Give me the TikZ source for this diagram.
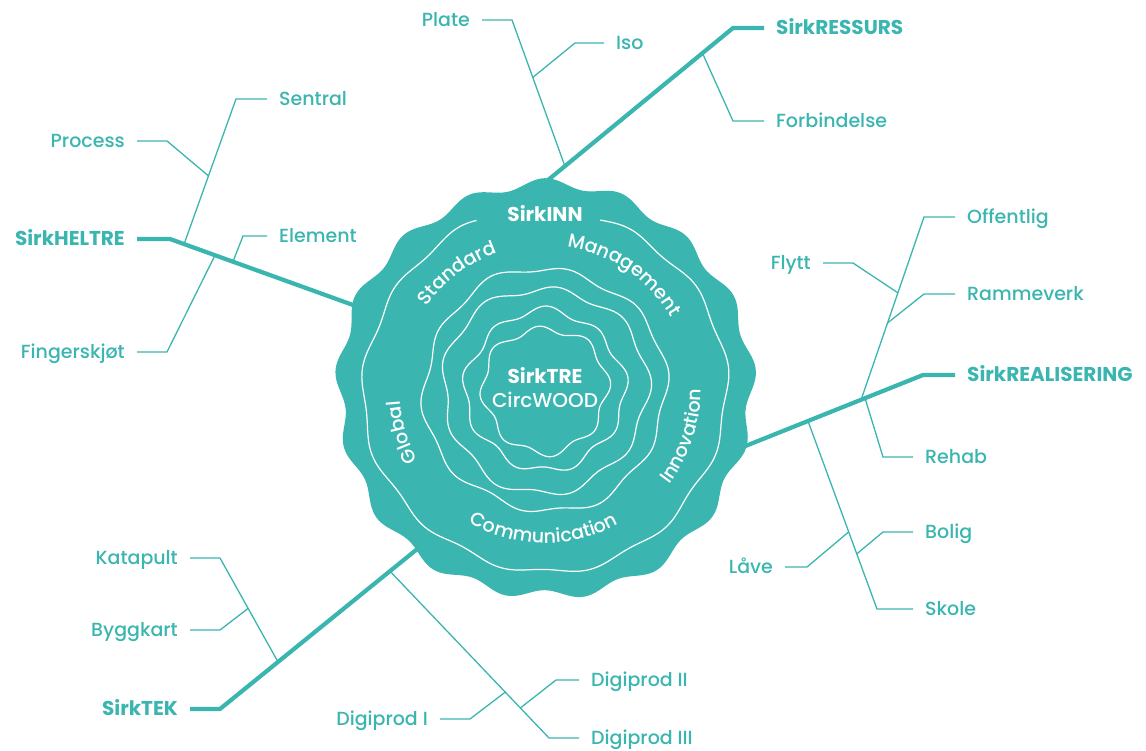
\documentclass[tikz,border=0pt]{standalone}
\usepackage{fontspec}
\setmainfont{Poppins Medium}[BoldFont={Poppins Bold}]
\usepackage{tikz}
\usetikzlibrary{calc,positioning,decorations.text}
\usepackage{xcolor}
\definecolor{sirk}{RGB}{58,181,176}
\newcommand{\lblfont}{\fontsize{19}{23}\selectfont}
\newcommand{\hubfont}{\fontsize{20}{24}\selectfont\bfseries}

\begin{document}
\begin{tikzpicture}[x=1pt,y=1pt,
        lbl/.style={text=sirk, font=\lblfont, inner xsep=12pt, inner ysep=0pt,
                    text height=13.3pt, text depth=0pt},
        hub/.style={lbl, font=\hubfont},
        mid/.style={text=white, font=\lblfont, inner sep=0pt,
                    text height=13.3pt, text depth=0pt},
        thk/.style={draw=sirk, line width=4.2pt},
        thn/.style={draw=sirk, line width=1.3pt},
        ring/.style={draw=white, line width=1.2pt},
        arctext/.style={decorate, decoration={text along path, text align=center,
                        text color=white, text={|\lblfont|#1}}}]
\useasboundingbox (0,0) rectangle (1146,-751);

% SirkRESSURS
\coordinate (ressB) at (542,-185);
\coordinate (ressK) at (733,-28);
\node[hub, anchor=west] (ress) at (764,-28) {SirkRESSURS};
\draw[thk, shorten <=-14pt] (ressB) -- (ressK) -- (ress.west);
\coordinate (forbA) at ($(ressB)!0.84!(ressK)$);
\coordinate (forbK) at (733,-121);
\node[lbl, anchor=west] (forb) at (764,-121) {Forbindelse};
\draw[thn] (forbA) -- (forbK) -- (forb.west);
\coordinate (plateA) at ($(ressB)!0.12!(ressK)$);
\coordinate (plateK) at (512,-20);
\node[lbl, anchor=east] (plate) at (482,-20) {Plate};
\draw[thn] (plateA) -- (plateK) -- (plate.east);
\coordinate (isoA) at ($(plateA)!0.607!(plateK)$);
\coordinate (isoK) at (575,-43);
\node[lbl, anchor=west] (iso) at (604,-43) {Iso};
\draw[thn] (isoA) -- (isoK) -- (iso.west);

% SirkHELTRE
\coordinate (heltB) at (353,-305);
\coordinate (heltK) at (170,-239);
\node[hub, anchor=east] (helt) at (137,-239) {SirkHELTRE};
\draw[thk, shorten <=-14pt] (heltB) -- (heltK) -- (helt.east);
\coordinate (sentA) at ($(heltK)!0.077!(heltB)$);
\coordinate (sentK) at (236,-99);
\node[lbl, anchor=west] (sent) at (267,-99) {Sentral};
\draw[thn] (sentA) -- (sentK) -- (sent.west);
\coordinate (procA) at ($(sentA)!0.47!(sentK)$);
\coordinate (procK) at (167,-141);
\node[lbl, anchor=east] (proc) at (137,-141) {Process};
\draw[thn] (procA) -- (procK) -- (proc.east);
\coordinate (elemA) at ($(heltK)!0.344!(heltB)$);
\coordinate (elemK) at (243,-236);
\node[lbl, anchor=west] (elem) at (267,-236) {Element};
\draw[thn] (elemA) -- (elemK) -- (elem.west);
\coordinate (fingA) at ($(heltK)!0.246!(heltB)$);
\coordinate (fingK) at (167,-352);
\node[lbl, anchor=east] (fing) at (137,-352) {Fingerskjøt};
\draw[thn] (fingA) -- (fingK) -- (fing.east);

% SirkREALISERING
\coordinate (realB) at (743,-447);
\coordinate (realK) at (923,-375);
\node[hub, anchor=west] (real) at (955,-375) {SirkREALISERING};
\draw[thk, shorten <=-14pt] (realB) -- (realK) -- (real.west);
\coordinate (offA) at ($(realB)!0.656!(realK)$);
\coordinate (offK) at (924,-217);
\node[lbl, anchor=west] (off) at (955,-217) {Offentlig};
\draw[thn] (offA) -- (offK) -- (off.west);
\coordinate (rehabA) at ($(realB)!0.678!(realK)$);
\coordinate (rehabK) at (883,-457);
\node[lbl, anchor=west] (rehab) at (913,-457) {Rehab};
\draw[thn] (rehabA) -- (rehabK) -- (rehab.west);
\coordinate (flyttA) at ($(offA)!0.585!(offK)$);
\coordinate (flyttK) at (853,-263);
\node[lbl, anchor=east] (flytt) at (823,-263) {Flytt};
\draw[thn] (flyttA) -- (flyttK) -- (flytt.east);
\coordinate (rammeA) at ($(offA)!0.42!(offK)$);
\coordinate (rammeK) at (924,-294);
\node[lbl, anchor=west] (ramme) at (955,-294) {Rammeverk};
\draw[thn] (rammeA) -- (rammeK) -- (ramme.west);
\coordinate (skoleA) at ($(realB)!0.361!(realK)$);
\coordinate (skoleK) at (877,-609);
\node[lbl, anchor=west] (skole) at (913,-609) {Skole};
\draw[thn] (skoleA) -- (skoleK) -- (skole.west);
\coordinate (boligA) at ($(skoleA)!0.707!(skoleK)$);
\coordinate (boligK) at (883,-532);
\node[lbl, anchor=west] (bolig) at (913,-532) {Bolig};
\draw[thn] (boligA) -- (boligK) -- (bolig.west);
\coordinate (laaveA) at ($(skoleA)!0.59!(skoleK)$);
\coordinate (laaveK) at (807,-567);
\node[lbl, anchor=east] (laave) at (785,-567) {Låve};
\draw[thn] (laaveA) -- (laaveK) -- (laave.east);

% SirkTEK
\coordinate (tekB) at (416,-550);
\coordinate (tekK) at (220,-709);
\node[hub, anchor=east] (tek) at (190,-709) {SirkTEK};
\draw[thk, shorten <=-14pt] (tekB) -- (tekK) -- (tek.east);
\coordinate (kataA) at ($(tekB)!0.704!(tekK)$);
\coordinate (kataK) at (220,-558);
\node[lbl, anchor=east] (kata) at (190,-558) {Katapult};
\draw[thn] (kataA) -- (kataK) -- (kata.east);
\coordinate (byggA) at ($(kataA)!0.515!(kataK)$);
\coordinate (byggK) at (220,-630);
\node[lbl, anchor=east] (bygg) at (190,-630) {Byggkart};
\draw[thn] (byggA) -- (byggK) -- (bygg.east);
\coordinate (dpcA) at ($(tekB)!0.133!(tekK)$);
\coordinate (dpcK) at (549,-738);
\node[lbl, anchor=west] (dpc) at (579,-738) {Digiprod III};
\draw[thn] (dpcA) -- (dpcK) -- (dpc.west);
\coordinate (dpbA) at ($(dpcA)!0.82!(dpcK)$);
\coordinate (dpbK) at (556,-680);
\node[lbl, anchor=west] (dpb) at (579,-680) {Digiprod II};
\draw[thn] (dpbA) -- (dpbK) -- (dpb.west);
\coordinate (dpaA) at ($(dpcA)!0.725!(dpcK)$);
\coordinate (dpaK) at (470,-719);
\node[lbl, anchor=east] (dpa) at (440,-719) {Digiprod I};
\draw[thn] (dpaA) -- (dpaK) -- (dpa.east);

% tree rings
\begin{scope}[shift={(545,-390)}]
\fill[sirk] plot[domain=0:360, samples=361, variable=\t] (\t:{206+4.5*sin(17*\t)+1.5*sin(5*\t+30)}) -- cycle;
\draw[ring] plot[domain=112:432, samples=300, variable=\t] (\t:{181+2.5*sin(13*\t)+1.5*sin(4*\t+40)});
\draw[ring] plot[domain=0:360, samples=300, variable=\t] (\t:{121+3*sin(10*\t+20)+2*sin(4*\t)}) -- cycle;
\draw[ring] plot[domain=0:360, samples=300, variable=\t] (\t:{102+3.5*sin(9*\t+60)+2*sin(3*\t+30)}) -- cycle;
\draw[ring] plot[domain=0:360, samples=300, variable=\t] (\t:{79+3.5*sin(9*\t+10)+1.5*sin(4*\t+80)}) -- cycle;
\draw[ring] plot[domain=0:360, samples=300, variable=\t] (\t:{62+3.5*sin(8*\t+45)+1.5*sin(3*\t)}) -- cycle;
\node[mid, font=\hubfont] (inn) at (0,175) {SirkINN};
\path[arctext=Standard] (150:145) arc[start angle=150, end angle=104, radius=145];
\path[arctext=Management] (88:145) arc[start angle=88, end angle=23, radius=145];
\path[arctext=Global] (215:145) arc[start angle=215, end angle=178, radius=145];
\path[arctext=Innovation] (-40:156) arc[start angle=-40, end angle=3, radius=156];
\path[arctext=Communication] (235:153) arc[start angle=235, end angle=304, radius=153];
\node[mid, font=\hubfont] (tre) at (0,13) {SirkTRE};
\node[mid, font=\fontsize{20}{24}\selectfont, below=10pt of tre] (wood) {CircWOOD};
\end{scope}
\end{tikzpicture}
\end{document}
